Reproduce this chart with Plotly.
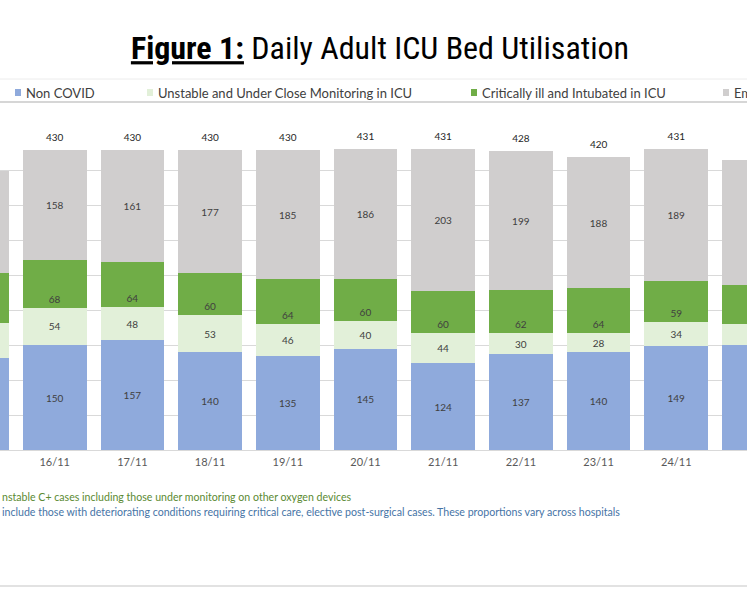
import plotly.graph_objects as go

# Daily counts (15/11 and 25/11 are only partly visible)
dates = ["15/11", "16/11", "17/11", "18/11", "19/11", "20/11", "21/11", "22/11", "23/11", "24/11", "25/11"]
non_covid = [132, 150, 157, 140, 135, 145, 124, 137, 140, 149, 151]
unstable = [50, 54, 48, 53, 46, 40, 44, 30, 28, 34, 30]
critical = [72, 68, 64, 60, 64, 60, 60, 62, 64, 59, 55]
empty_beds = [146, 158, 161, 177, 185, 186, 203, 199, 188, 189, 180]
totals = [a + b + c + d for a, b, c, d in zip(non_covid, unstable, critical, empty_beds)]

series_names = ["Non COVID", "Unstable and Under Close Monitoring in ICU",
                "Critically ill and Intubated in ICU", "Empty ICU Beds"]
colors = ["#8faadc", "#e2f0d9", "#70ad47", "#d0cece"]

FONT = "Lato"
TITLE_FONT = "Liberation Sans Narrow, Arial Narrow, Roboto Condensed, Roboto"
W, H = 747, 598
PLOT_TOP, PLOT_BOTTOM = 136, 450


def py(y_px):
    # page pixel row -> paper y
    return (PLOT_BOTTOM - y_px) / (PLOT_BOTTOM - PLOT_TOP)


def px(x_px):
    return x_px / W


fig = go.Figure()

for name, vals, col in zip(series_names, [non_covid, unstable, critical, empty_beds], colors):
    fig.add_trace(go.Bar(
        x=list(range(len(dates))), y=vals, name=name, marker_color=col,
        marker_line_width=0, text=vals, textposition="inside",
        insidetextanchor="start" if col == "#70ad47" else "middle",
        textangle=0, textfont=dict(family=FONT, size=10, color="#404040"),
        showlegend=False,
    ))

# totals above each bar (invisible marker pushes the text up a bit)
fig.add_trace(go.Scatter(
    x=list(range(len(dates))), y=totals, mode="markers+text", text=totals,
    marker=dict(size=9, opacity=0),
    textposition="top center", textfont=dict(family=FONT, size=10, color="#262626"),
    cliponaxis=False, showlegend=False, hoverinfo="skip",
))

fig.update_layout(
    width=W, height=H,
    barmode="stack", bargap=0.18,
    plot_bgcolor="white", paper_bgcolor="white",
    margin=dict(l=0, r=0, t=PLOT_TOP, b=H - PLOT_BOTTOM),
    title=dict(text="<b><u>Figure 1:</u></b> Daily Adult ICU Bed Utilisation",
               x=380 / W, xanchor="center", y=1 - 48 / H, yanchor="middle",
               font=dict(family=TITLE_FONT, size=32, color="black")),
)
fig.update_xaxes(
    tickmode="array", tickvals=list(range(len(dates))), ticktext=dates,
    range=[0.296, 9.91], showgrid=False, showline=False, ticks="",
    ticklabelstandoff=4,
    tickfont=dict(family=FONT, size=11, color="#595959"),
)
fig.update_yaxes(
    range=[0, 450], dtick=50, showticklabels=False, gridcolor="#d9d9d9",
    gridwidth=1, zeroline=True, zerolinecolor="#d9d9d9", zerolinewidth=1,
)

# legend drawn by hand to match the spacing of the original
legend_x = [15, 147, 471, 723]
for name, col, lx in zip(series_names, colors, legend_x):
    fig.add_shape(type="rect", xref="paper", yref="paper",
                  x0=px(lx), x1=px(lx + 6), y0=py(96), y1=py(89),
                  fillcolor=col, line_width=0)
    fig.add_annotation(text=name, xref="paper", yref="paper", x=px(lx + 9), y=py(92.5),
                       xanchor="left", yanchor="middle", showarrow=False,
                       font=dict(family=FONT, size=13, color="#404040"))

# frame lines around the legend and at the bottom
for y_px, col, w in [(79, "#ececec", 1), (102, "#d6d6d6", 2), (586, "#e2e2e2", 2)]:
    fig.add_shape(type="line", xref="paper", yref="paper", x0=0, x1=1,
                  y0=py(y_px), y1=py(y_px), line=dict(color=col, width=w))

# footnotes (cut off on the left in the original)
fig.add_annotation(text="nstable C+ cases including those under monitoring on other oxygen devices",
                   xref="paper", yref="paper", x=0, y=py(497), xanchor="left", yanchor="middle",
                   showarrow=False, font=dict(family=FONT, size=10.6, color="#5b8a32"))
fig.add_annotation(text="include those with deteriorating conditions requiring critical care, elective "
                        "post-surgical cases. These proportions vary across hospitals",
                   xref="paper", yref="paper", x=0, y=py(512), xanchor="left", yanchor="middle",
                   showarrow=False, font=dict(family=FONT, size=10.6, color="#4674a6"))

# drop the browser's default body margin so the figure sits at the page corner
fig.write_html("out.html", config={"displayModeBar": False},
               post_script="document.body.style.margin = '0px';")
